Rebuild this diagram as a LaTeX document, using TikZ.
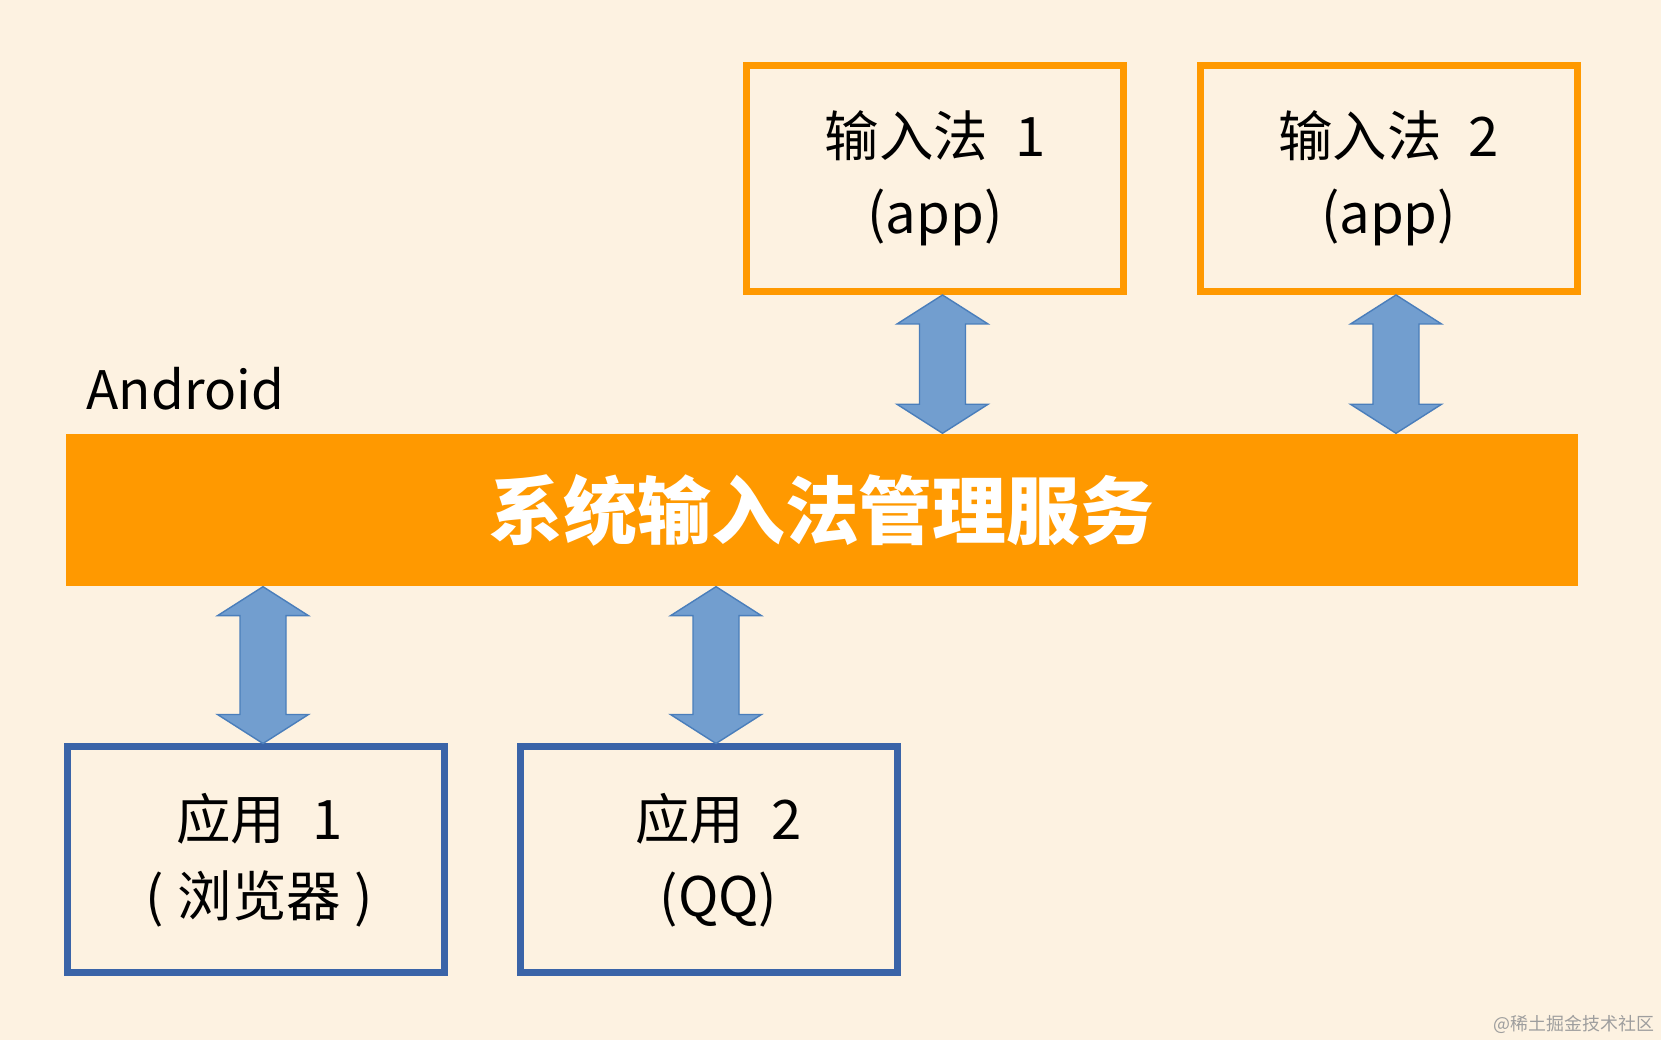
\documentclass[tikz,border=0pt]{standalone}
\usepackage{fontspec}
\setmainfont{Noto Sans CJK SC}
\usetikzlibrary{calc}

\definecolor{bgcol}{RGB}{253,242,225}
\definecolor{imeorange}{RGB}{255,153,0}
\definecolor{appblue}{RGB}{58,100,168}
\definecolor{arrfill}{RGB}{114,158,207}
\definecolor{arrdraw}{RGB}{74,126,187}

% up-down block arrow between two points (#1 top, #2 bottom)
\newcommand{\dblarrow}[2]{%
  \path[blockarr] let \p1=(#1), \p2=(#2) in
    (\x1,\y1) -- (\x1+0.455cm,\y1-0.29cm) -- (\x1+0.23cm,\y1-0.29cm)
    -- (\x1+0.23cm,\y2+0.29cm) -- (\x1+0.455cm,\y2+0.29cm) -- (\x1,\y2)
    -- (\x1-0.455cm,\y2+0.29cm) -- (\x1-0.23cm,\y2+0.29cm)
    -- (\x1-0.23cm,\y1-0.29cm) -- (\x1-0.455cm,\y1-0.29cm) -- cycle;
}

\begin{document}
\begin{tikzpicture}[
		imebox/.style={draw=imeorange, line width=0.07cm, minimum width=3.77cm, minimum height=2.26cm, align=center, font=\fontsize{15.5}{22}\selectfont},
		appbox/.style={draw=appblue, line width=0.07cm, minimum width=3.77cm, minimum height=2.26cm, align=center, font=\fontsize{15.5}{22}\selectfont},
		blockarr/.style={fill=arrfill, draw=arrdraw, line width=0.4pt}
	]
		% Background
		\fill[bgcol] (0,0) rectangle (16.61,10.40);
		\useasboundingbox (0,0) rectangle (16.61,10.40);
		
		% Input method apps
		\node[imebox] (ime1) at (9.35,8.615) {输入法\hspace{0.5em}1\\(app)};
		\node[imebox] (ime2) at (13.885,8.615) {输入法\hspace{0.5em}2\\(app)};
		
		% System service
		\node[anchor=base west, inner sep=0pt, font=\fontsize{15.1}{18}\selectfont] (android) at (0.86,6.30) {Android};
		\node[fill=imeorange, minimum width=15.12cm, minimum height=1.52cm, inner sep=0pt, text=white, font=\bfseries\fontsize{21}{25}\selectfont] (bar) at (8.22,5.30) {系统输入法管理服务};
		
		% Client apps
		\node[appbox] (app1) at (2.555,1.80) {\hspace*{0.08cm}应用\hspace{0.5em}1\\\hspace*{0.08cm}(\hspace{0.25em}浏览器\hspace{0.25em})};
		\node[appbox] (app2) at (7.085,1.80) {\hspace*{0.2cm}应用\hspace{0.5em}2\\\hspace*{0.2cm}(QQ)};
		
		% Arrows
		\coordinate (t1) at ([xshift=0.075cm]ime1.south);
		\coordinate (t2) at ([xshift=0.075cm]ime2.south);
		\coordinate (b1) at ([xshift=0.075cm]app1.north);
		\coordinate (b2) at ([xshift=0.075cm]app2.north);
		\dblarrow{t1}{t1 |- bar.north}
		\dblarrow{t2}{t2 |- bar.north}
		\dblarrow{b1 |- bar.south}{b1}
		\dblarrow{b2 |- bar.south}{b2}
		
		% Watermark
		\node[anchor=east, inner sep=0pt, text=black!38, font=\fontsize{5.1}{6}\selectfont] (mark) at (16.55,0.16) {@稀土掘金技术社区};
	\end{tikzpicture}
\end{document}
